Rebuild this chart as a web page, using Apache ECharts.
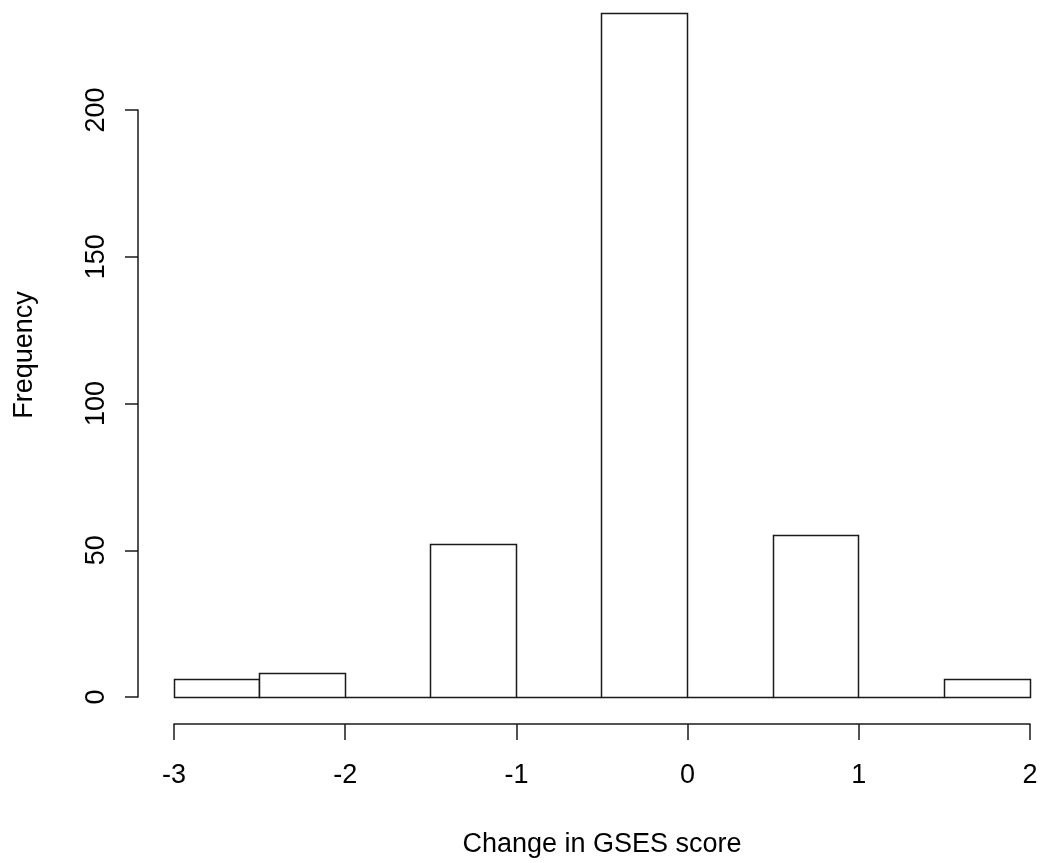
<!DOCTYPE html>
<html>
<head>
<meta charset="utf-8">
<title>Change in GSES score</title>
<script src="https://cdn.jsdelivr.net/npm/echarts@6/dist/echarts.min.js"></script>
<style>
  html, body { margin: 0; padding: 0; background: #fff; }
  #chart { width: 1042px; height: 863px; }
</style>
</head>
<body>
<div id="chart"></div>
<script>
// Histogram bins (width 0.5) and their counts
const binStarts = [-3, -2.5, -2, -1.5, -1, -0.5, 0, 0.5, 1, 1.5];
const binEnds   = [-2.5, -2, -1.5, -1, -0.5, 0, 0.5, 1, 1.5, 2];
const counts    = [6, 8, 0, 52, 0, 233, 0, 55, 0, 6];

const xTicks = [-3, -2, -1, 0, 1, 2];
const yTicks = [0, 50, 100, 150, 200];

const FONT = '"Liberation Sans", Arial, sans-serif';
const FS = 27;
const INK = '#1a1a1a';
const LW = 1.5;

const data = binStarts.map((s, i) => [s, binEnds[i], counts[i]]);

const crisp = v => Math.round(v - 0.5) + 0.5;

const chart = echarts.init(document.getElementById('chart'), null, { renderer: 'canvas' });

chart.setOption({
  backgroundColor: '#fff',
  animation: false,
  grid: { left: 174, right: 12, top: 110, bottom: 166, containLabel: false },
  xAxis: {
    type: 'value',
    min: xTicks[0],
    max: xTicks[xTicks.length - 1],
    interval: 1,
    offset: 27,
    splitLine: { show: false },
    axisLine: { show: true, onZero: false, lineStyle: { color: INK, width: LW } },
    axisTick: { show: true, length: 16, lineStyle: { color: INK, width: LW } },
    axisLabel: { color: '#000', fontFamily: FONT, fontSize: FS, margin: 38 },
    name: 'Change in GSES score',
    nameLocation: 'middle',
    nameGap: 107,
    nameTextStyle: { color: '#000', fontFamily: FONT, fontSize: FS }
  },
  yAxis: {
    type: 'value',
    min: yTicks[0],
    max: yTicks[yTicks.length - 1],
    interval: 50,
    offset: 36,
    splitLine: { show: false },
    axisLine: { show: true, onZero: false, lineStyle: { color: INK, width: LW } },
    axisTick: { show: true, length: 13, lineStyle: { color: INK, width: LW } },
    axisLabel: { color: '#000', fontFamily: FONT, fontSize: FS, rotate: 90, margin: 28 }
  },
  graphic: [{
    type: 'text',
    x: 25,
    y: 355,
    rotation: Math.PI / 2,
    style: {
      text: 'Frequency',
      fill: '#000',
      font: FS + 'px ' + FONT,
      textAlign: 'center',
      textVerticalAlign: 'middle'
    }
  }],
  series: [{
    type: 'custom',
    clip: false,
    data: data,
    encode: { x: [0, 1], y: 2 },
    renderItem: function (params, api) {
      const topLeft = api.coord([api.value(0), api.value(2)]);
      const bottomRight = api.coord([api.value(1), 0]);
      const x0 = crisp(topLeft[0]);
      const y0 = crisp(topLeft[1]);
      const x1 = crisp(bottomRight[0]);
      const y1 = crisp(bottomRight[1]);
      return {
        type: 'rect',
        shape: { x: x0, y: y0, width: x1 - x0, height: y1 - y0 },
        style: { fill: '#fff', stroke: INK, lineWidth: LW }
      };
    }
  }]
});
</script>
</body>
</html>
